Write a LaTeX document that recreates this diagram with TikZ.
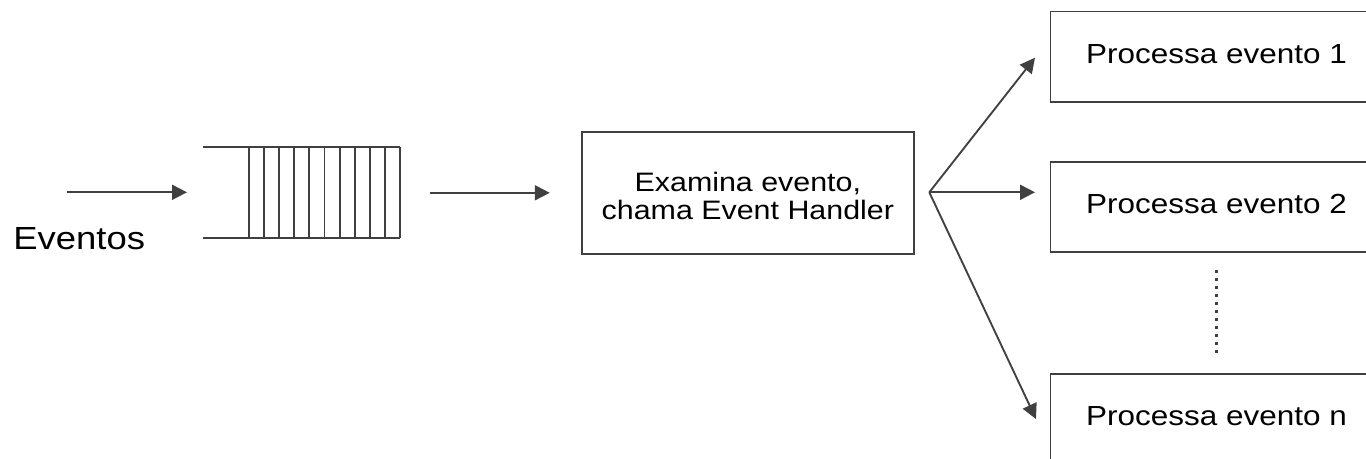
\documentclass[tikz,border=0pt]{standalone}
\usepackage{fontspec}
\setmainfont{Liberation Sans}[FakeStretch=1.14]
\usetikzlibrary{arrows.meta,calc}
\definecolor{lc}{HTML}{404040}
\begin{document}
\begin{tikzpicture}[x=0.75pt,y=-0.75pt,
  line/.style={draw=lc, line width=1.4pt},
  arr/.style={line, -{Triangle[length=11.25pt,width=11.25pt]}},
  pbox/.style={draw=lc, line width=1.4pt, minimum width=249pt, minimum height=67.8pt,
    inner sep=0pt, font=\fontsize{20.7}{24}\selectfont, text height=0.95em, text depth=0pt},
  ebox/.style={draw=lc, line width=1.4pt, minimum width=249.2pt, minimum height=91.5pt,
    inner sep=0pt, align=center, font=\fontsize{20}{21.2}\selectfont},
  lbl/.style={inner sep=0pt, font=\fontsize{24}{28}\selectfont},
  dots/.style={draw=lc, line width=2pt, dash pattern=on 2.2pt off 3.8pt}
]
\useasboundingbox (0,0) rectangle (1366,459);
\clip (0,0) rectangle (1366,459);

% label
\node[lbl, anchor=base west] (ev) at (13,250) {Eventos};

% incoming arrow
\coordinate (in0) at (66.7,192.3);
\coordinate (in1) at (187,192.3);
\draw[arr] (in0) -- (in1);

% queue
\node[inner sep=0pt, minimum width=148pt, minimum height=68pt] (queue) at (301.65,192.8) {};
\draw[line] (203,147) -- (400.3,147);
\draw[line] (203,237.7) -- (400.3,237.7);
\foreach \i in {0,...,10} \draw[line] ({248.7+15.16*\i},147) -- ++(0,90.7);

% examine box
\node[ebox] (exam) at (747.85,192.8) {\rule{0pt}{0.97em}Examina evento,\\chama Event Handler};
\draw[arr, shorten <=21.8pt, shorten >=23.25pt] (queue.east) -- (exam.west);

% process boxes
\node[pbox] (p1) at (1216.5,56.7) {Processa evento 1};
\node[pbox] (p2) at (1216.5,207.2) {Processa evento 2};
\node[pbox] (pn) at (1216.5,419.5) {Processa evento n};

% fan-out
\coordinate (fan) at (929.3,192.3);
\coordinate (t1) at (1035,57.7);
\coordinate (t2) at (1035,192.3);
\coordinate (tn) at (1036,419);
\draw[arr] (fan) -- (t1);
\draw[arr] (fan) -- (t2);
\draw[arr] (fan) -- (tn);

% dotted continuation
\draw[dots, shorten <=12.2pt, shorten >=12pt] (p2.south) -- (pn.north);
\end{tikzpicture}
\end{document}
